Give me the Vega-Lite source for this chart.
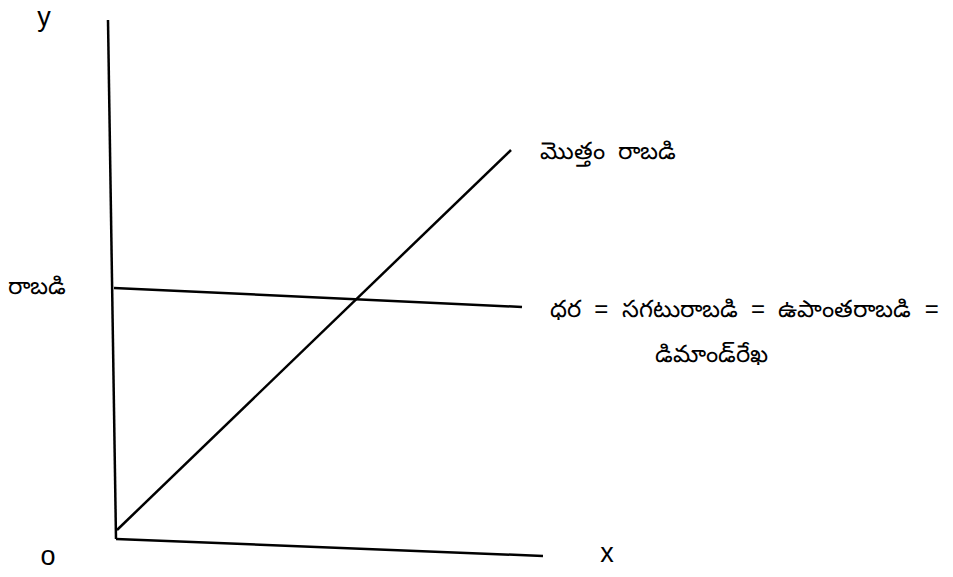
{
  "$schema": "https://vega.github.io/schema/vega-lite/v6.json",
  "width": 953,
  "height": 577,
  "autosize": {"type": "fit", "contains": "padding"},
  "padding": 0,
  "background": "white",
  "config": {"view": {"stroke": null}},
  "datasets": {
    "lines": [
      {"series": "y-axis", "x": -2, "y": 129.75},
      {"series": "y-axis", "x": 0, "y": 0},
      {"series": "x-axis", "x": 0, "y": 0},
      {"series": "x-axis", "x": 106.75, "y": -4.25},
      {"series": "price", "x": -0.5, "y": 62.75},
      {"series": "price", "x": 101.5, "y": 58},
      {"series": "total", "x": 0.25, "y": 2.25},
      {"series": "total", "x": 98.75, "y": 97.25}
    ],
    "latin": [
      {"label": "y", "x": -18, "y": 130.25},
      {"label": "o", "x": -17, "y": -4.5},
      {"label": "x", "x": 122.75, "y": -3.75}
    ],
    "telugu": [
      {"label": "రాబడి", "x": -27, "y": 63},
      {"label": "మొత్తం \u00a0రాబడి", "x": 106, "y": 96.75},
      {"label": "ధర \u00a0= \u00a0సగటురాబడి \u00a0= \u00a0ఉపాంతరాబడి \u00a0=", "x": 108.5, "y": 57.25},
      {"label": "డిమాండ్‌రేఖ", "x": 134.75, "y": 46}
    ]
  },
  "layer": [
    {
      "data": {"name": "lines"},
      "mark": {"type": "line", "color": "black", "strokeWidth": 2.5},
      "encoding": {
        "x": {"field": "x", "type": "quantitative", "scale": {"domain": [-29, 209.25], "nice": false, "zero": false}, "axis": null},
        "y": {"field": "y", "type": "quantitative", "scale": {"domain": [-9.5, 134.75], "nice": false, "zero": false}, "axis": null},
        "detail": {"field": "series"}
      }
    },
    {
      "data": {"name": "latin"},
      "mark": {"type": "text", "font": "Liberation Sans", "fontSize": 27, "align": "center", "baseline": "middle", "color": "black"},
      "encoding": {
        "x": {"field": "x", "type": "quantitative"},
        "y": {"field": "y", "type": "quantitative"},
        "text": {"field": "label"}
      }
    },
    {
      "data": {"name": "telugu"},
      "mark": {"type": "text", "fontSize": 24, "align": "left", "baseline": "middle", "color": "black"},
      "encoding": {
        "x": {"field": "x", "type": "quantitative"},
        "y": {"field": "y", "type": "quantitative"},
        "text": {"field": "label"}
      }
    }
  ]
}
